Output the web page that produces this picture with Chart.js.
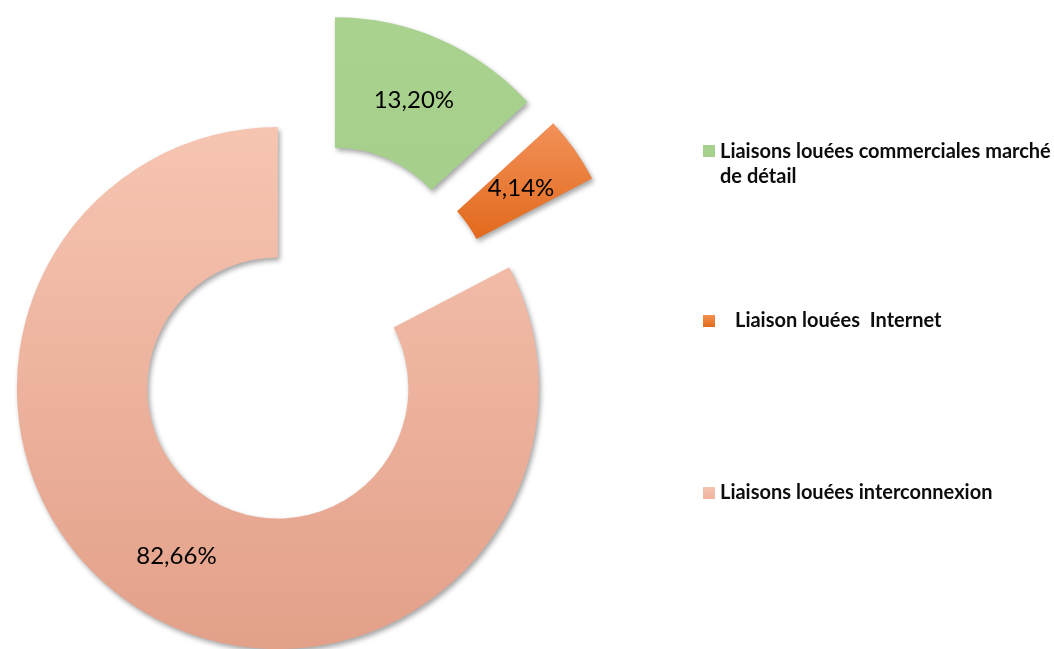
<!DOCTYPE html>
<html>
<head>
<meta charset="utf-8">
<script src="https://cdn.jsdelivr.net/npm/chart.js@4.4.0/dist/chart.umd.min.js"></script>
<style>
  html, body { margin: 0; padding: 0; background: #ffffff; }
  #wrap { position: relative; width: 1054px; height: 649px; overflow: hidden; }
  #c { position: absolute; left: 0; top: 0; }
  .lg-text { position: absolute; font-family: Lato, "Open Sans", sans-serif; font-weight: bold;
             font-size: 20px; line-height: 25px; color: #0d0d0d; white-space: pre; }
  .lg-text div { margin: 0; padding: 0; }
  .lg-sw { position: absolute; width: 12px; height: 12px; }
</style>
</head>
<body>
<div id="wrap">
  <canvas id="c" width="1054" height="649"></canvas>
</div>
<script>
// ---- data ----
const categories = [
  'Liaisons louées commerciales marché de détail',
  'Liaison louées  Internet',
  'Liaisons louées interconnexion'
];
const legendLines = [
  ['Liaisons louées commerciales marché', 'de détail'],
  ['Liaison louées  Internet'],
  ['Liaisons louées interconnexion']
];
const shares = [13.20, 4.14, 82.66];

// ---- styles ----
const baseColors = ['#A9D18E', '#EE7D33', '#F2B49E'];
const gradStops = [
  ['#AAD28F', '#A6CF8B'],
  ['#F29159', '#E2691C'],
  ['#F6C5B2', '#E3A089']
];
const swatchColors = [
  'linear-gradient(#A9D18E,#A9D18E)',
  'linear-gradient(#F2914F,#E36A1C)',
  'linear-gradient(#F6C3B0,#F0B39E)'
];
const EXPLODE = 62;

const fmt = v => v.toFixed(2).replace('.', ',') + '%';

// ---- HTML legend ----
const legendPos = [
  { sw: [703, 145], tx: [720, 138] },
  { sw: [703, 315], tx: [735, 307] },
  { sw: [703, 487], tx: [720, 479] }
];
const wrap = document.getElementById('wrap');
legendLines.forEach((lines, i) => {
  const sw = document.createElement('div');
  sw.className = 'lg-sw';
  sw.style.left = legendPos[i].sw[0] + 'px';
  sw.style.top = legendPos[i].sw[1] + 'px';
  sw.style.background = swatchColors[i];
  wrap.appendChild(sw);
  const tx = document.createElement('div');
  tx.className = 'lg-text';
  tx.style.left = legendPos[i].tx[0] + 'px';
  tx.style.top = legendPos[i].tx[1] + 'px';
  lines.forEach(line => {
    const d = document.createElement('div');
    d.textContent = line;
    tx.appendChild(d);
  });
  wrap.appendChild(tx);
});

// ---- explode + gradient + shadow + labels ----
const explodePlugin = {
  id: 'explode',
  afterDatasetUpdate(chart, args) {
    const meta = chart.getDatasetMeta(args.index);
    const c = chart.ctx;
    meta.data.forEach((el, i) => {
      const mid = (el.startAngle + el.endAngle) / 2;
      el.x += Math.cos(mid) * EXPLODE;
      el.y += Math.sin(mid) * EXPLODE;
      let minY = Infinity, maxY = -Infinity;
      for (let k = 0; k <= 90; k++) {
        const a = el.startAngle + (el.endAngle - el.startAngle) * k / 90;
        [el.innerRadius, el.outerRadius].forEach(r => {
          const yy = el.y + Math.sin(a) * r;
          if (yy < minY) minY = yy;
          if (yy > maxY) maxY = yy;
        });
      }
      const g = c.createLinearGradient(0, minY, 0, maxY);
      g.addColorStop(0, gradStops[i][0]);
      g.addColorStop(1, gradStops[i][1]);
      if (Object.isFrozen(el.options)) {
        el.options = Object.assign({}, el.options, { backgroundColor: g });
      } else {
        el.options.backgroundColor = g;
      }
    });
  },
  beforeDatasetsDraw(chart) {
    const c = chart.ctx;
    c.save();
    c.shadowColor = 'rgba(0,0,0,0.35)';
    c.shadowBlur = 5;
    c.shadowOffsetX = 2;
    c.shadowOffsetY = 3;
  },
  afterDatasetsDraw(chart) {
    const c = chart.ctx;
    c.restore();
    const meta = chart.getDatasetMeta(0);
    c.save();
    c.font = '24px Lato, "Open Sans", sans-serif';
    c.fillStyle = '#000000';
    c.textAlign = 'center';
    c.textBaseline = 'middle';
    meta.data.forEach((el, i) => {
      const p = el.tooltipPosition();
      c.fillText(fmt(shares[i]), p.x, p.y + 1);
    });
    c.restore();
  }
};

new Chart(document.getElementById('c'), {
  type: 'doughnut',
  data: {
    labels: categories,
    datasets: [{
      data: shares,
      backgroundColor: baseColors,
      borderWidth: 0
    }]
  },
  options: {
    responsive: false,
    animation: false,
    events: [],
    cutout: '50%',
    layout: { padding: { left: 49, top: 74, right: 483, bottom: 53 } },
    plugins: {
      legend: { display: false },
      tooltip: { enabled: false }
    }
  },
  plugins: [explodePlugin]
});
</script>
</body>
</html>
